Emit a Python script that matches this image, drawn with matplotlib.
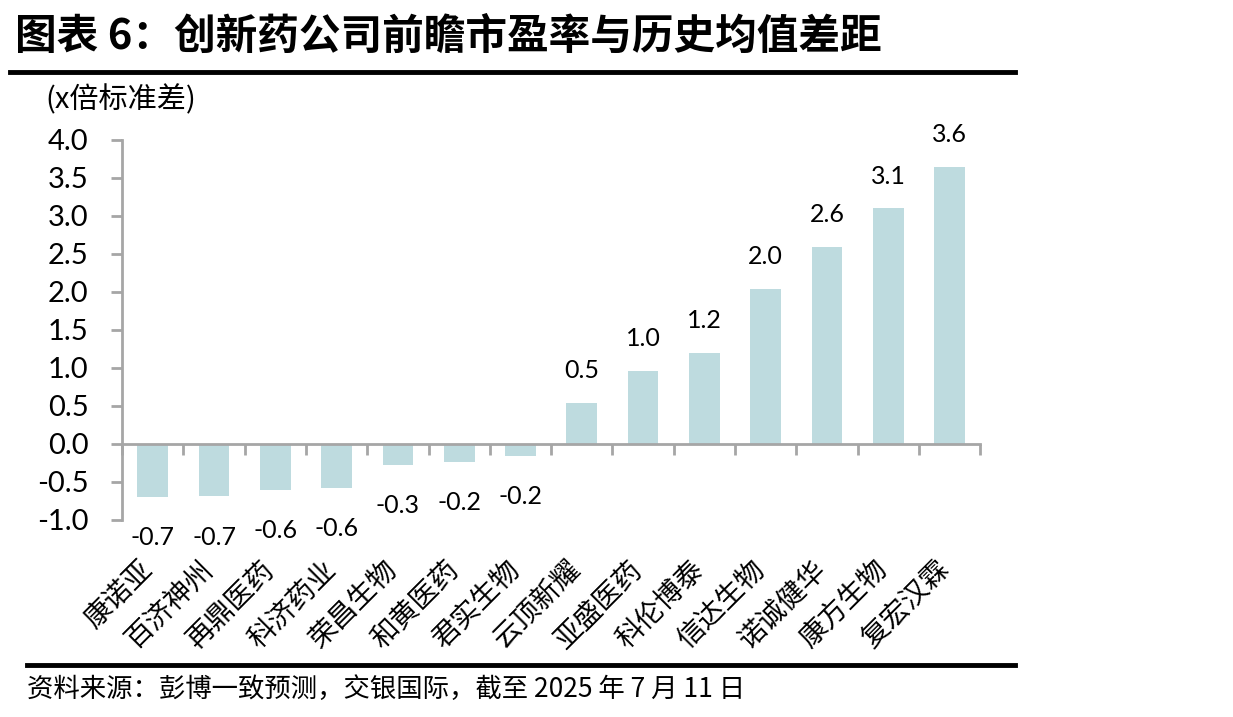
import matplotlib
matplotlib.use("Agg")
import matplotlib.pyplot as plt
import numpy as np

plt.rcParams['font.family'] = ['Noto Sans CJK SC', 'DejaVu Sans']

# data
companies = ['康诺亚', '百济神州', '再鼎医药', '科济药业', '荣昌生物', '和黄医药', '君实生物',
             '云顶新耀', '亚盛医药', '科伦博泰', '信达生物', '诺诚健华', '康方生物', '复宏汉霖']
gap = [-0.70, -0.69, -0.61, -0.58, -0.28, -0.24, -0.16,
       0.54, 0.96, 1.20, 2.04, 2.59, 3.10, 3.64]
y_ticks = [-1.0, -0.5, 0.0, 0.5, 1.0, 1.5, 2.0, 2.5, 3.0, 3.5, 4.0]

bar_color = '#BEDBDF'
axis_gray = '#A6A6A6'
num_font = ['Lato', 'DejaVu Sans']

fig = plt.figure(figsize=(12.33, 7.17), dpi=100)
ax = fig.add_axes([0.099, 0.2748, 0.696, 0.53])

x = np.arange(len(companies))
ax.bar(x, gap, width=0.5, color=bar_color, zorder=2)

ax.set_xlim(-0.5, len(companies) - 0.5)
ax.set_ylim(-1.0, 4.0)

# spines
for s in ['top', 'right']:
    ax.spines[s].set_visible(False)
ax.spines['left'].set_color(axis_gray)
ax.spines['left'].set_linewidth(2)
ax.spines['bottom'].set_position(('data', 0))
ax.spines['bottom'].set_color(axis_gray)
ax.spines['bottom'].set_linewidth(2)

ax.set_yticks(y_ticks)
ax.set_yticklabels([f'{v:.1f}' for v in y_ticks], family=num_font, fontsize=21)
ax.tick_params(axis='y', colors=axis_gray, length=8, width=2, labelcolor='black', pad=16)

ax.set_xticks(np.arange(-0.5, len(companies), 1.0))
ax.set_xticklabels([])
ax.tick_params(axis='x', colors=axis_gray, length=8, width=2, direction='out')

# category labels, rotated, at bottom
for i, name in enumerate(companies):
    ax.annotate(name, xy=(i, -1.0), xytext=(4, -25), textcoords='offset points',
                rotation=45, ha='right', va='top', fontsize=20)

# value labels
for i, v in enumerate(gap):
    if v >= 0:
        ax.annotate(f'{v:.1f}', xy=(i, v), xytext=(0, 15), textcoords='offset points',
                    ha='center', va='bottom', fontsize=18, family=num_font)
    else:
        ax.annotate(f'{v:.1f}', xy=(i, v), xytext=(0, -21), textcoords='offset points',
                    ha='center', va='top', fontsize=18, family=num_font)

# unit label
fig.text(0.037, 0.86, '(x倍标准差)', fontsize=21, ha='left', va='center')

# title and rules
fig.text(0.012, 0.948, '图表 6：创新药公司前瞻市盈率与历史均值差距', fontsize=30,
         fontweight='bold', ha='left', va='center')
fig.add_artist(plt.Line2D([0.008, 0.823], [0.899, 0.899], color='black', lw=3.5))
fig.add_artist(plt.Line2D([0.022, 0.823], [0.072, 0.072], color='black', lw=3.5))
fig.text(0.022, 0.038, '资料来源：彭博一致预测，交银国际，截至 2025 年 7 月 11 日', fontsize=19,
         ha='left', va='center', style='italic')

fig.savefig('out.png', dpi=100)
